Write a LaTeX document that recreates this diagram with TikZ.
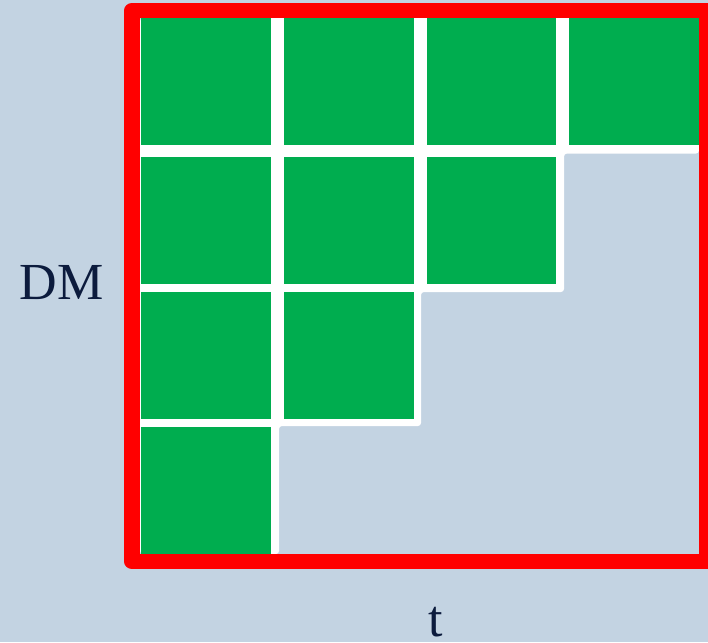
\documentclass[tikz,border=0pt]{standalone}
\usepackage{fontspec}
\setmainfont{Liberation Serif}
\usepackage{tikz}
\definecolor{slide-bg}{HTML}{C3D3E2}
\definecolor{cell-green}{HTML}{00AD4F}
\definecolor{label-navy}{HTML}{0C1B3D}
\tikzset{
  grid-cell/.style={fill=cell-green, inner sep=0pt, outer sep=0pt, anchor=north west,
    minimum width=129.6pt, minimum height=127.4pt},
  grid-backing/.style={fill=white, rounded corners=3pt},
  grid-frame/.style={draw=red, line width=15.5pt, line join=round},
  axis-label/.style={font=\fontsize{52}{60}\selectfont, text=label-navy, inner sep=0pt, anchor=base}
}

\begin{document}
\begin{tikzpicture}[x=1pt, y=-1pt]
  % Slide background
  \fill[slide-bg] (0,0) rectangle (708,642);
  \useasboundingbox (0,0) rectangle (708,642);

  % White staircase behind the cells
  \fill[grid-backing] (140,18) -- (699,18) -- (699,153.5) -- (564,153.5) -- (564,292)
    -- (421,292) -- (421,426) -- (279,426) -- (279,554) -- (140,554) -- cycle;

  % Row 1
  \foreach \name/\x in {c11/141, c12/284.3, c13/426.7, c14/569} {
    \node[grid-cell] (\name) at (\x,18) {};
  }
  % Row 2
  \foreach \name/\x in {c21/141, c22/284.3, c23/426.7} {
    \node[grid-cell] (\name) at (\x,157) {};
  }
  % Row 3
  \foreach \name/\x in {c31/141, c32/284.3} {
    \node[grid-cell] (\name) at (\x,291.7) {};
  }
  % Row 4
  \node[grid-cell] (c41) at (141,426.7) {};

  % Red frame
  \draw[grid-frame] (132,10.5) rectangle (706.5,561.5);

  % Axis labels
  \node[axis-label] (dm-label) at (61.5,299) {DM};
  \node[axis-label] (t-label) at (435.5,636) {t};
\end{tikzpicture}
\end{document}
